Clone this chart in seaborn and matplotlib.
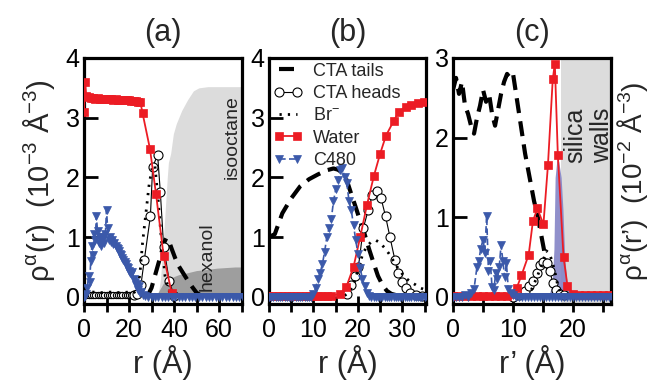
import matplotlib
matplotlib.use('Agg')
import matplotlib.pyplot as plt
import seaborn as sns
from matplotlib.ticker import MultipleLocator

# ---------------- data: panel (a) ----------------
water_a_r = [0, 0.5, 1, 2, 3, 4, 5, 6, 7, 8, 9, 10, 11, 12, 13, 14, 15, 16, 17, 18, 19,
             20, 21, 22, 23, 24, 25, 26, 29.3, 32, 35.4, 39]
water_a = [3.1, 3.6, 3.36, 3.34, 3.33, 3.33, 3.32, 3.33, 3.32, 3.32, 3.31, 3.32, 3.31, 3.31,
           3.30, 3.31, 3.30, 3.30, 3.29, 3.30, 3.29, 3.29, 3.28, 3.28, 3.28, 3.27, 3.27,
           3.08, 2.48, 1.72, 0.68, 0.06]
water_a_tail_r = [39, 72]
water_a_tail = [0.03, 0.03]

heads_a_flat_r = [0, 1, 2, 3, 4, 5, 6, 7, 8, 9, 10, 11, 12, 13, 14, 15, 16, 17, 18, 19, 20,
                  21, 22]
heads_a_flat = [0.03, 0.03, 0.03, 0.03, 0.03, 0.03, 0.03, 0.03, 0.03, 0.03, 0.03, 0.03, 0.03,
                0.03, 0.03, 0.03, 0.03, 0.03, 0.03, 0.03, 0.03, 0.03, 0.03]
heads_a_r = [22, 23.5, 25.3, 26.8, 29.5, 30.5, 32.7, 33.9, 35.4, 37.9, 40]
heads_a = [0.03, 0.05, 0.2, 0.62, 1.35, 2.17, 2.38, 1.76, 0.84, 0.26, 0.02]

br_a_r = [0, 4, 8, 12, 16, 20, 22, 24, 25, 26, 27.5, 29, 30.5, 31.5, 33, 34.5, 36, 38, 40]
br_a = [0.07, 0.08, 0.07, 0.08, 0.07, 0.08, 0.06, 0.15, 0.45, 0.9, 1.4, 1.9, 2.2, 2.2, 1.6,
        0.9, 0.35, 0.08, 0.01]

tails_a_r = [28, 30, 31.5, 33, 34.5, 35.5, 36.5, 37.5, 39, 40.5, 42, 44, 46, 48, 50, 52, 55]
tails_a = [0.0, 0.15, 0.35, 0.55, 0.75, 0.9, 0.98, 0.96, 0.8, 0.65, 0.52, 0.4, 0.28, 0.17,
           0.07, 0.02, 0.0]

c480_a_r = [0, 0.5, 1, 1.5, 2, 2.5, 3, 3.5, 4, 4.5, 5, 5.5, 6, 6.5, 7, 7.5, 8, 8.5, 9, 9.5,
            10, 10.5, 11, 11.5, 12, 12.5, 13, 13.5, 14, 14.5, 15, 15.5, 16, 16.5, 17, 17.5,
            18, 18.5, 19, 19.5, 20, 20.5, 21, 21.5, 22, 22.5, 23, 23.5, 24, 24.5, 25, 25.5,
            26, 27, 28.5, 30, 31.5, 33, 34.5, 36, 37.5, 39, 40.5, 42, 43.5, 45, 46.5, 48,
            49.5, 51, 52.5, 54, 55.5, 57, 58.5, 60, 61.5, 63, 64.5, 66, 67.5, 69, 70.5]
c480_a = [0.0, 0.02, 0.05, 0.15, 0.35, 0.25, 0.6, 0.85, 0.7, 1.05, 0.95, 1.35, 1.1, 0.9,
          1.0, 0.85, 0.95, 1.0, 0.9, 1.05, 1.45, 1.15, 0.95, 1.0, 0.92, 0.95, 0.88, 0.9,
          0.85, 0.82, 0.8, 0.76, 0.72, 0.7, 0.65, 0.62, 0.58, 0.55, 0.5, 0.48, 0.44, 0.4,
          0.38, 0.42, 0.3, 0.25, 0.2, 0.22, 0.12, 0.18, 0.06, 0.08, 0.03, 0.01,
          0.0, 0.0, 0.0, 0.0, 0.0, 0.0, 0.0, 0.0, 0.0, 0.0, 0.0, 0.0, 0.0, 0.0, 0.0, 0.0,
          0.0, 0.0, 0.0, 0.0, 0.0, 0.0, 0.0, 0.0, 0.0, 0.0, 0.0, 0.0, 0.0]

isooctane_r = [31, 33, 34, 35, 36, 37, 37.5, 38.5, 39.7, 41, 43.4, 46, 48.6, 51, 55, 72]
isooctane = [0, 0.05, 0.3, 0.8, 1.4, 2.0, 2.25, 2.4, 2.73, 2.9, 3.12, 3.3, 3.45, 3.5, 3.52, 3.52]
hexanol_r = [31.5, 33, 35.3, 38, 40, 42, 45.6, 50, 55, 59, 67, 72]
hexanol = [0, 0.08, 0.23, 0.3, 0.34, 0.37, 0.4, 0.44, 0.46, 0.48, 0.5, 0.5]

# ---------------- data: panel (b) ----------------
tails_b_r = [0, 1.3, 3, 5, 7, 9, 11, 13, 14.5, 15.5, 16.5, 17.5, 18.5, 19.5, 20.5, 21.5, 22.5,
             23.5, 24.5, 25.5, 26.5, 27.5, 29, 31]
tails_b = [1.0, 1.05, 1.4, 1.65, 1.85, 1.97, 2.05, 2.12, 2.15, 2.13, 2.08, 1.95, 1.72, 1.5,
           1.27, 1.05, 0.8, 0.57, 0.35, 0.2, 0.1, 0.05, 0.02, 0.0]

heads_b_r = [17.5, 18.5, 19.3, 20.1, 21.2, 22.3, 23.2, 24.2, 25.2, 26.2, 27.2, 28.3, 29,
             29.8, 30.7, 31.7, 33, 34.5]
heads_b = [0.05, 0.2, 0.35, 0.5, 1.15, 1.45, 1.7, 1.78, 1.65, 1.35, 1.0, 0.62, 0.4, 0.25,
           0.14, 0.07, 0.03, 0.02]

br_b_r = [17, 18, 19, 20, 21, 22, 23, 24, 25, 26, 27, 28, 29, 30, 31, 32, 33, 34, 35]
br_b = [0.02, 0.08, 0.2, 0.45, 0.7, 0.85, 0.92, 0.95, 0.9, 0.82, 0.72, 0.6, 0.48, 0.38, 0.3,
        0.24, 0.2, 0.15, 0.12]

water_b_r = [0, 1, 2, 3, 4, 5, 6, 7, 8, 9, 10, 11, 12, 13, 14, 16, 17.4, 19, 20.5, 22, 23.6,
             25, 26.3, 28, 29.2, 30.7, 32, 33.5, 34.8]
water_b = [0.01, 0.01, 0.01, 0.01, 0.01, 0.01, 0.01, 0.01, 0.01, 0.01, 0.01, 0.01, 0.01,
           0.02, 0.02, 0.05, 0.17, 0.5, 1.0, 1.53, 2.03, 2.4, 2.7, 2.94, 3.1, 3.18, 3.22,
           3.25, 3.27]

c480_b_r = [0, 0.5, 1, 1.5, 2, 2.5, 3, 3.5, 4, 4.5, 5, 5.5, 6, 6.5, 7, 7.5, 8, 8.5, 9, 9.5,
            10, 10.5, 11, 11.5, 12, 12.5, 13, 13.5, 14, 14.5, 15, 15.5, 16, 16.5, 17, 17.5,
            18, 18.5, 19, 19.5, 20, 20.5, 21, 21.5, 22, 22.5, 23, 23.5, 24, 24.5, 25, 25.5,
            26, 26.5, 27, 27.5, 28, 28.5, 29, 29.5, 30, 30.5, 31, 31.5, 32, 32.5, 33, 33.5,
            34, 34.5, 35, 35.5]
c480_b = [0.0, 0.0, 0.0, 0.0, 0.0, 0.0, 0.0, 0.0, 0.0, 0.0, 0.0, 0.0, 0.0, 0.0, 0.0, 0.0,
          0.0, 0.0, 0.0, 0.0, 0.05, 0.15, 0.3, 0.4, 0.55, 0.75, 1.0, 1.15, 1.3, 1.6, 1.8,
          1.95, 2.12, 2.15, 2.0, 1.9, 1.6, 1.45, 1.2, 0.95, 0.72, 0.48, 0.3, 0.18, 0.06,
          0.02, 0.0, 0.0, 0.0, 0.0, 0.0, 0.0, 0.0, 0.0, 0.0, 0.0, 0.0, 0.0, 0.0, 0.0, 0.0,
          0.0, 0.0, 0.0, 0.0, 0.0, 0.0, 0.0, 0.0, 0.0, 0.0, 0.0]

# ---------------- data: panel (c) ----------------
tails_c_r = [0, 0.5, 1, 1.5, 2, 2.5, 3, 3.5, 4, 4.5, 5, 5.5, 6, 6.5, 7, 7.5, 8, 8.5, 9, 9.5,
             10, 10.5, 11, 11.5, 12, 12.5, 13, 13.5, 14, 14.5, 15, 15.5, 16, 16.5, 17, 17.5]
tails_c = [2.6, 2.75, 2.55, 2.7, 2.4, 2.3, 2.15, 2.05, 2.25, 2.4, 2.6, 2.45, 2.55, 2.3, 2.15,
           2.35, 2.55, 2.7, 2.8, 2.75, 2.8, 2.55, 2.3, 2.05, 1.8, 1.6, 1.4, 1.2, 1.05, 0.85,
           0.65, 0.45, 0.3, 0.2, 0.1, 0.03]

heads_c_r = [10, 11, 12, 12.7, 13.3, 13.9, 14.4, 15.0, 15.6, 16.1, 16.6, 17.2, 17.8, 18.5]
heads_c = [0.0, 0.02, 0.07, 0.14, 0.2, 0.3, 0.4, 0.44, 0.42, 0.33, 0.18, 0.08, 0.04, 0.02]

br_c_r = [12, 13, 14, 15, 15.5, 16, 16.5, 17, 17.5, 18, 19]
br_c = [0.02, 0.08, 0.25, 0.45, 0.58, 0.55, 0.45, 0.3, 0.12, 0.04, 0.01]

water_c_r = [0, 1, 2, 3, 4, 5, 6, 7, 8, 9, 10, 10.6, 11.4, 12.6, 13.3, 14.05, 15.05, 15.8,
             16.6, 16.95, 17.45, 18.4, 19.05, 20, 21, 22, 23, 24, 25, 26, 27]
water_c = [0.01, 0.01, 0.01, 0.01, 0.01, 0.01, 0.01, 0.01, 0.01, 0.01, 0.03, 0.11, 0.27,
           0.53, 0.95, 1.11, 0.91, 1.65, 2.73, 2.93, 1.78, 0.5, 0.14, 0.03, 0.02, 0.02,
           0.02, 0.02, 0.02, 0.02, 0.02]

c480_c_r = [0, 0.5, 1, 1.5, 2, 2.5, 3, 3.5, 4, 4.3, 4.6, 5.0, 5.3, 5.6, 5.9, 6.2, 6.5, 6.8,
            7.1, 7.4, 7.7, 8.0, 8.3, 8.6, 8.9, 9.2, 9.6, 10, 10.5, 11, 11.5, 12, 12.5, 13,
            13.5, 14, 14.5, 15, 15.5, 16, 16.5, 17, 17.5, 18, 18.5, 19, 19.5, 20, 20.5, 21,
            21.5, 22, 22.5, 23, 23.5, 24, 24.5, 25, 25.5, 26, 26.5, 27]
c480_c = [0.0, 0.0, 0.0, 0.0, 0.02, 0.0, 0.05, 0.1, 0.38, 0.45, 0.6, 0.72, 0.55, 1.02, 0.32,
          0.45, 0.12, 0.08, 0.3, 0.22, 0.38, 0.65, 0.45, 0.25, 0.42, 0.1, 0.05, 0.02, 0.0,
          0.0, 0.0, 0.0, 0.0, 0.0, 0.0, 0.0, 0.0, 0.0, 0.0, 0.0, 0.0, 0.0, 0.0, 0.0, 0.0,
          0.0, 0.0, 0.0, 0.0, 0.0, 0.0, 0.0, 0.0, 0.0, 0.0, 0.0, 0.0, 0.0, 0.0, 0.0, 0.0, 0.0]

silica_o_r = [15.5, 16, 16.5, 16.8, 17.0, 17.3, 17.6, 18.0, 18.3, 18.6, 19, 19.5, 20]
silica_o = [0, 0.03, 0.15, 0.6, 1.5, 1.73, 1.7, 1.5, 1.1, 0.5, 0.15, 0.03, 0]
wall_r = [18.0, 30]

legend_labels = ['CTA tails', 'CTA heads', 'Br$^{-}$', 'Water', 'C480']
titles = ['(a)', '(b)', '(c)']
xlabels = ['r (Å)', 'r (Å)', 'r’ (Å)']

# ---------------- style ----------------
sns.set_theme(style='ticks')
plt.rcParams['font.family'] = ['Liberation Sans', 'DejaVu Sans']
plt.rcParams['mathtext.fontset'] = 'custom'
plt.rcParams['mathtext.rm'] = 'Liberation Sans'
plt.rcParams['mathtext.it'] = 'Liberation Sans:italic'
plt.rcParams['mathtext.bf'] = 'Liberation Sans:bold'

RED = '#ec1c24'
BLUE = '#3b59aa'
LGREY = '#dcdcdc'
DGREY = '#9e9e9e'
PURPLE = '#8484c6'

fig = plt.figure(figsize=(6.55, 3.89), dpi=100)
H = 389.0
W = 655.0
bot = 1 - 304 / H
hgt = (304 - 58) / H
axa = fig.add_axes([84 / W, bot, (242 - 84) / W, hgt])
axb = fig.add_axes([269 / W, bot, (426 - 269) / W, hgt])
axc = fig.add_axes([453 / W, bot, (611 - 453) / W, hgt])


def draw(ax, rr, vv, kind, z=3, ms=None):
    if kind == 'tails':
        sns.lineplot(x=rr, y=vv, ax=ax, color='black', lw=3.0, linestyle=(0, (3.6, 2.0)),
                     estimator=None, sort=False, legend=False, zorder=z)
    elif kind == 'heads':
        sns.lineplot(x=rr, y=vv, ax=ax, color='black', lw=0.8, marker='o',
                     markersize=ms or 6.5, mfc='white', mec='black', mew=0.8,
                     estimator=None, sort=False, legend=False, zorder=z)
    elif kind == 'br':
        sns.lineplot(x=rr, y=vv, ax=ax, color='black', lw=2.0, linestyle=(0, (0.8, 2.2)),
                     estimator=None, sort=False, legend=False, zorder=z)
    elif kind == 'water':
        sns.lineplot(x=rr, y=vv, ax=ax, color=RED, lw=1.3, marker='s', markersize=5.5,
                     mfc=RED, mec=RED, mew=0.5, estimator=None, sort=False, legend=False,
                     zorder=z)
    elif kind == 'c480':
        sns.lineplot(x=rr, y=vv, ax=ax, color=BLUE, lw=1.2, linestyle=(0, (4, 2)),
                     marker='v', markersize=6, mfc=BLUE, mec=BLUE, mew=0.5, estimator=None,
                     sort=False, legend=False, zorder=z)
    return ax.lines[-1]


# panel a
axa.fill_between(isooctane_r, 0, isooctane, color=LGREY, lw=0, zorder=0)
axa.fill_between(hexanol_r, 0, hexanol, color=DGREY, lw=0, zorder=0.5)
draw(axa, tails_a_r, tails_a, 'tails')
draw(axa, heads_a_flat_r, heads_a_flat, 'heads', ms=4.5)
draw(axa, heads_a_r, heads_a, 'heads')
draw(axa, br_a_r, br_a, 'br')
draw(axa, water_a_r, water_a, 'water')
sns.lineplot(x=water_a_tail_r, y=water_a_tail, ax=axa, color='#a01010', lw=1.0,
             estimator=None, sort=False, legend=False, zorder=3)
draw(axa, c480_a_r, c480_a, 'c480')
axa.text(65.8, 2.67, 'isooctane', rotation=90, ha='center', va='center', fontsize=14)
axa.text(54.5, 0.68, 'hexanol', rotation=90, ha='center', va='center', fontsize=14)

# panel b
h_tails = draw(axb, tails_b_r, tails_b, 'tails')
h_heads = draw(axb, heads_b_r, heads_b, 'heads')
h_br = draw(axb, br_b_r, br_b, 'br')
h_water = draw(axb, water_b_r, water_b, 'water')
h_c480 = draw(axb, c480_b_r, c480_b, 'c480')
axb.legend(handles=[h_tails, h_heads, h_br, h_water, h_c480], labels=legend_labels,
           loc='upper left', bbox_to_anchor=(0.0, 1.0), frameon=False, fontsize=13,
           handlelength=1.6, handletextpad=0.6, labelspacing=0.3, borderaxespad=0.1,
           borderpad=0.15, numpoints=2)

# panel c
axc.axvspan(wall_r[0], wall_r[1], color=LGREY, lw=0, zorder=0)
axc.fill_between(silica_o_r, 0, silica_o, color=PURPLE, lw=0, alpha=0.9, zorder=0.5)
draw(axc, tails_c_r, tails_c, 'tails')
draw(axc, heads_c_r, heads_c, 'heads')
draw(axc, br_c_r, br_c, 'br')
draw(axc, water_c_r, water_c, 'water')
draw(axc, c480_c_r, c480_c, 'c480')
axc.text(20.3, 2.03, 'silica', rotation=90, ha='center', va='center', fontsize=18)
axc.text(24.8, 2.03, 'walls', rotation=90, ha='center', va='center', fontsize=18)

# axes cosmetics
limits = [((0, 70.2), (-0.12, 4)), ((0, 35.3), (-0.12, 4)), ((0, 26.3), (-0.09, 3))]
xmaj = [20, 10, 10]
xmin = [10, 5, 5]
for ax, (xl, yl), t, xlab, mj, mn in zip([axa, axb, axc], limits, titles, xlabels, xmaj, xmin):
    ax.set_xlim(*xl)
    ax.set_ylim(*yl)
    ax.xaxis.set_major_locator(MultipleLocator(mj))
    ax.xaxis.set_minor_locator(MultipleLocator(mn))
    ax.yaxis.set_major_locator(MultipleLocator(1))
    for s in ax.spines.values():
        s.set_linewidth(2.3)
        s.set_color('black')
        s.set_visible(True)
    ax.tick_params(axis='x', which='both', direction='inout', length=12, width=2,
                   labelsize=18, pad=4, colors='black')
    ax.tick_params(axis='y', which='major', direction='in', length=10, width=2,
                   labelsize=18, pad=3, colors='black')
    ax.set_title(t, fontsize=22, pad=12)
    ax.set_xlabel(xlab, fontsize=22, labelpad=2)
    ax.set_facecolor('white')

axa.set_ylabel(r'$\mathregular{\rho^{\alpha}(r)\ \ (10^{-3}\ Å^{-3})}$', fontsize=21, labelpad=6)
axb.set_ylabel('')
axc.set_ylabel(r'$\mathregular{\rho^{\alpha}(r’)\ \ (10^{-2}\ Å^{-3})}$', fontsize=20,
               labelpad=3)
axc.yaxis.set_label_position('right')

fig.savefig('out.png', dpi=100, facecolor='white')
